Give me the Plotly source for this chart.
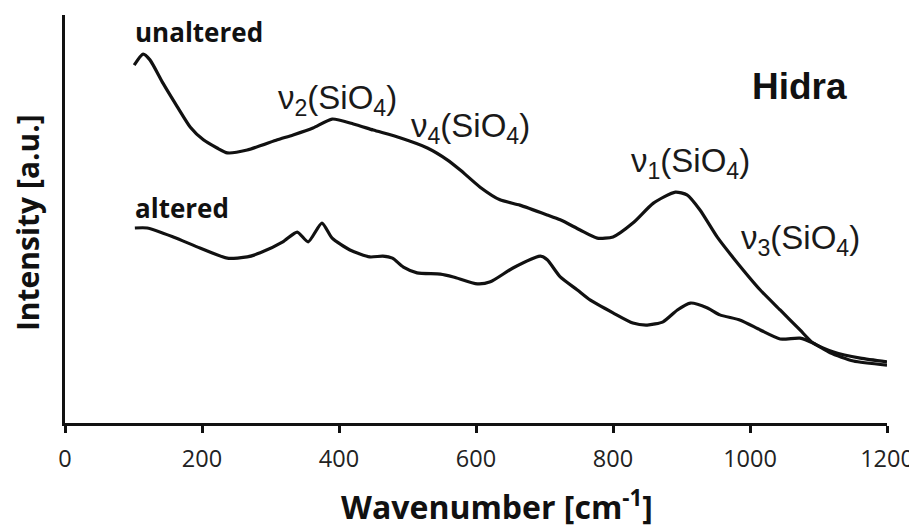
import plotly.graph_objects as go

# Wavenumber [cm-1] and intensity [a.u.]
unaltered_wn = [101, 114, 124, 143, 164, 183, 202, 222, 237, 266, 310, 333, 362, 390, 421,
                450, 489, 529, 558, 577, 606, 635, 664, 704, 723, 752, 777, 800, 829, 859,
                891, 908, 927, 952, 976, 1015, 1044, 1073, 1092, 1122, 1161, 1200]
unaltered_int = [87.7, 90.4, 89.0, 83.3, 77.5, 72.5, 69.4, 67.4, 66.2, 66.9, 69.4, 70.6, 72.3,
                 74.5, 73.3, 71.8, 69.9, 67.4, 64.5, 62.0, 57.8, 54.7, 53.4, 51.0, 49.8, 47.3,
                 45.3, 45.6, 49.0, 53.9, 56.6, 55.9, 52.2, 45.6, 40.4, 32.6, 27.7, 22.8, 19.6,
                 17.4, 15.9, 15.0]

altered_wn = [102, 120, 158, 197, 237, 266, 285, 318, 339, 355, 375, 390, 416, 445, 464, 478,
              494, 514, 548, 567, 602, 621, 654, 694, 704, 723, 748, 767, 800, 829, 850, 873,
              894, 913, 938, 956, 986, 1015, 1044, 1073, 1092, 1117, 1151, 1200]
altered_int = [47.8, 47.8, 45.6, 42.9, 40.4, 40.7, 41.7, 44.4, 46.8, 44.4, 49.0, 45.3, 42.4,
               40.7, 40.9, 40.4, 38.2, 36.8, 36.5, 35.8, 34.1, 34.6, 38.0, 40.9, 40.0, 35.8,
               32.6, 30.1, 27.0, 24.5, 24.0, 24.8, 27.7, 29.4, 28.2, 26.5, 25.2, 22.8, 20.6,
               20.8, 19.6, 17.2, 15.2, 14.2]

x_ticks = [0, 200, 400, 600, 800, 1000, 1200]

fig = go.Figure()
fig.add_trace(go.Scatter(x=unaltered_wn, y=unaltered_int, mode="lines", name="unaltered",
                         line=dict(color="#111111", width=3.2, shape="spline", smoothing=0.6)))
fig.add_trace(go.Scatter(x=altered_wn, y=altered_int, mode="lines", name="altered",
                         line=dict(color="#111111", width=3.2, shape="spline", smoothing=0.6)))

label_font = dict(family="Arial, Liberation Sans", size=33, color="#1a1a1a")
bold_font = dict(family="Open Sans", size=26, color="#111111")
title_font = dict(family="Open Sans", size=32, color="#111111")

annotations = [
    dict(x=99, y=95.8, text="<b>unaltered</b>", xanchor="left", yanchor="middle", font=bold_font),
    dict(x=99, y=52.7, text="<b>altered</b>", xanchor="left", yanchor="middle", font=bold_font),
    dict(x=1072, y=82.4, text="<b>Hidra</b>", xanchor="center", yanchor="middle",
         font=dict(family="Arial, Liberation Sans", size=37, color="#111111")),
    dict(x=308, y=79.2, text="ν<sub>2</sub>(SiO<sub>4</sub>)", xanchor="left", yanchor="middle", font=label_font),
    dict(x=502, y=72.3, text="ν<sub>4</sub>(SiO<sub>4</sub>)", xanchor="left", yanchor="middle", font=label_font),
    dict(x=823, y=63.7, text="ν<sub>1</sub>(SiO<sub>4</sub>)", xanchor="left", yanchor="middle", font=label_font),
    dict(x=984, y=44.9, text="ν<sub>3</sub>(SiO<sub>4</sub>)", xanchor="left", yanchor="middle", font=label_font),
]
for a in annotations:
    a.update(xref="x", yref="y", showarrow=False)

# axis titles placed as annotations
annotations.append(dict(xref="paper", yref="paper", x=0.525, y=0, yshift=-82,
                        text="<b>Wavenumber [cm<sup>-1</sup>]</b>", showarrow=False,
                        xanchor="center", yanchor="middle", font=title_font))
annotations.append(dict(xref="paper", yref="paper", x=0, y=0.49, xshift=-38,
                        text="<b>Intensity [a.u.]</b>", showarrow=False, textangle=-90,
                        xanchor="center", yanchor="middle",
                        font=dict(family="Open Sans", size=30, color="#111111")))

# the page body adds an 8px offset, so the figure is sized to the remaining space
fig.update_layout(
    width=909, height=519,
    margin=dict(l=57, r=30, t=7, b=104),
    paper_bgcolor="white", plot_bgcolor="white",
    showlegend=False,
    annotations=annotations,
    xaxis=dict(range=[0, 1200], tickvals=x_ticks, ticktext=[str(v) for v in x_ticks],
               automargin=False,
               showline=True, linecolor="#111111", linewidth=2.5,
               ticks="outside", ticklen=7, tickwidth=2.5, tickcolor="#111111",
               ticklabelstandoff=6,
               showgrid=False, zeroline=False,
               tickfont=dict(family="Open Sans", size=23.5, color="#222222")),
    yaxis=dict(range=[0, 100], automargin=False,
               showline=True, linecolor="#111111", linewidth=2.5,
               showticklabels=False, ticks="", showgrid=False, zeroline=False),
)

fig.write_html("out.html")
